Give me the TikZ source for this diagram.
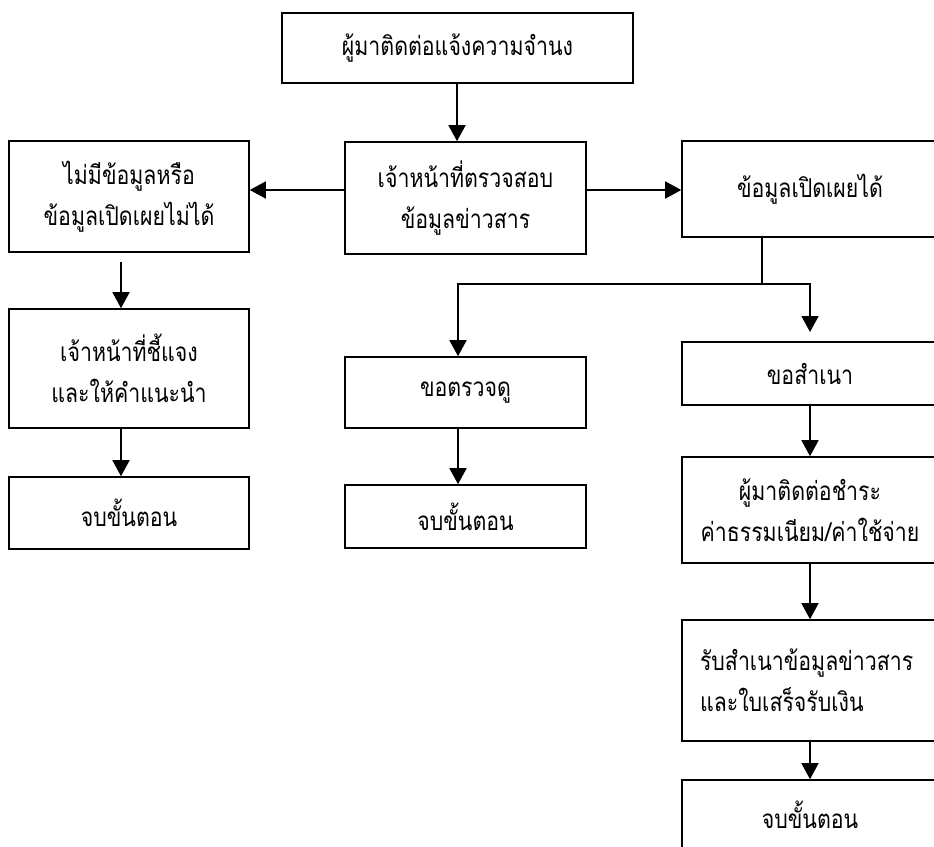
\documentclass[tikz,border=0pt]{standalone}
\usepackage{fontspec}
\newfontfamily\thaifont[Script=Thai,FakeStretch=0.82]{Loma}
\usepackage{tikz}
\usetikzlibrary{arrows.meta,positioning}
\tikzset{
	flowbox/.style={draw, line width=1.6pt, rectangle, inner sep=0pt, align=center, font=\thaifont\fontsize{26}{41}\selectfont},
	flowarrow/.style={line width=1.6pt, -{Triangle[width=17pt,length=16pt]}},
	flowline/.style={line width=1.6pt}
}

\begin{document}
\begin{tikzpicture}[x=1pt,y=-1pt]
			%%%%% START %%%%%
			\useasboundingbox (0,0) rectangle (934,846);

			% top and checking row
			\node[flowbox, minimum width=351pt, minimum height=70pt] (request) at (457.5,48) {ผู้มาติดต่อแจ้งความจำนง};
			\node[flowbox, minimum width=241pt, minimum height=112pt] (check) at (465.5,198) {เจ้าหน้าที่ตรวจสอบ\\ข้อมูลข่าวสาร};
			\node[flowbox, minimum width=240pt, minimum height=111pt] (nodata) at (129,196.5) {ไม่มีข้อมูลหรือ\\ข้อมูลเปิดเผยไม่ได้};
			\node[flowbox, minimum width=256pt, minimum height=96pt] (open) at (810,189) {ข้อมูลเปิดเผยได้};

			% left column
			\node[flowbox, minimum width=240pt, minimum height=119pt] (explain) at (129,368.5) {เจ้าหน้าที่ชี้แจง\\และให้คำแนะนำ};
			\node[flowbox, minimum width=240pt, minimum height=72pt] (endleft) at (129,513) {จบขั้นตอน};

			% middle column
			\node[flowbox, minimum width=241pt, minimum height=71pt] (inspect) at (465.5,392.5) {ขอตรวจดู};
			\node[flowbox, minimum width=241pt, minimum height=63pt] (endmid) at (465.5,516.5) {จบขั้นตอน};

			% right column
			\node[flowbox, minimum width=256pt, minimum height=63pt] (copy) at (810,373.5) {ขอสำเนา};
			\node[flowbox, minimum width=256pt, minimum height=106pt] (fee) at (810,510) {ผู้มาติดต่อชำระ\\ค่าธรรมเนียม/ค่าใช้จ่าย};
			\node[flowbox, minimum height=121pt, text width=220pt, inner xsep=18pt, align=left] (receive) at (810,680.5) {รับสำเนาข้อมูลข่าวสาร\\และใบเสร็จรับเงิน};
			\node[flowbox, minimum width=256pt, minimum height=70pt] (endright) at (810,815) {จบขั้นตอน};

			% connectors
			\draw[flowarrow] (request.south -| 457,0) -- (check.north -| 457,0);
			\draw[flowarrow] (check.west |- 0,190) -- (nodata.east |- 0,190);
			\draw[flowarrow] (check.east |- 0,190) -- (open.west |- 0,190);

			\coordinate (nodataout) at (121,262);
			\draw[flowarrow] (nodataout) -- (nodataout |- explain.north);
			\draw[flowarrow] (explain.south -| nodataout) -- (endleft.north -| nodataout);

			\coordinate (split) at (762,284);
			\coordinate (leftturn) at (458,284);
			\coordinate (rightturn) at (810,284);
			\coordinate (copyin) at (810,332);
			\draw[flowline] (open.south -| split) -- (split);
			\draw[flowarrow] (split) -- (leftturn) -- (leftturn |- inspect.north);
			\draw[flowarrow] (split) -- (rightturn) -- (copyin);

			\draw[flowarrow] (inspect.south -| leftturn) -- (endmid.north -| leftturn);
			\draw[flowarrow] (copy.south) -- (fee.north);
			\draw[flowarrow] (fee.south) -- (receive.north);
			\draw[flowarrow] (receive.south) -- (endright.north);

			%%%%% END %%%%%
\end{tikzpicture}
\end{document}
